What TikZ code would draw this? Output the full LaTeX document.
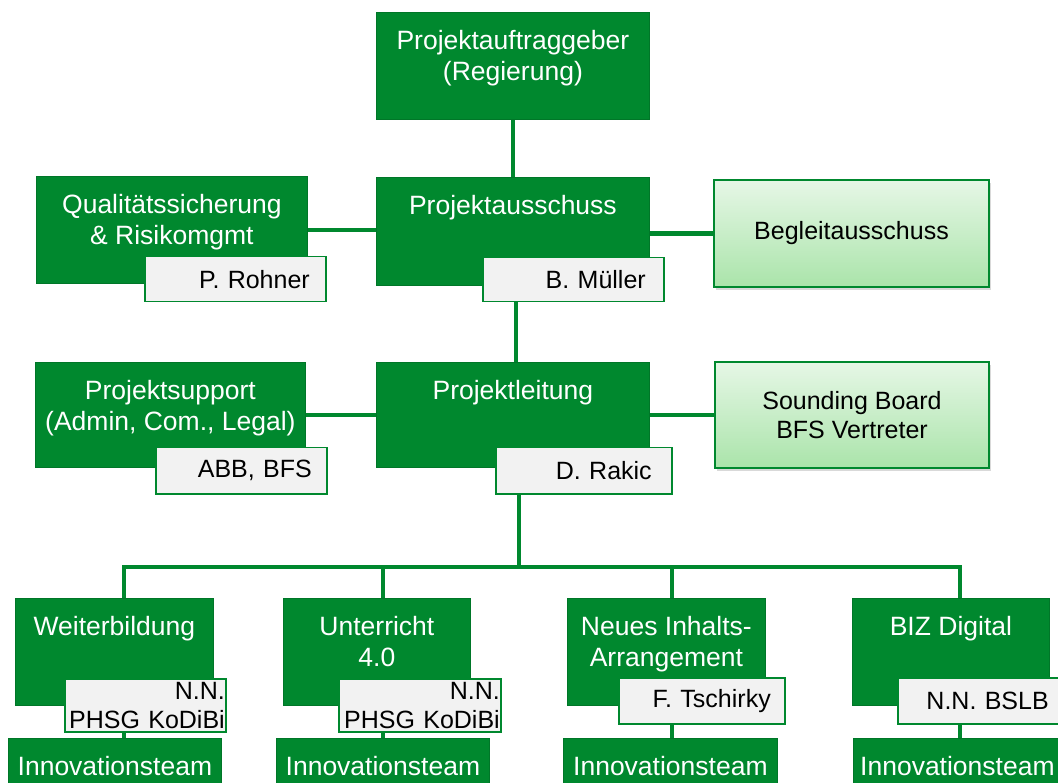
\documentclass[tikz,border=0pt]{standalone}
\usepackage{fontspec}
\setmainfont{Liberation Sans}
\usetikzlibrary{shadows,calc}
\definecolor{grn}{RGB}{0,136,46}
\definecolor{grnborder}{RGB}{0,118,40}
\definecolor{tagbg}{RGB}{242,242,242}
\definecolor{lgtop}{RGB}{230,247,230}
\definecolor{lgbot}{RGB}{170,228,170}
\newcommand\fsT{\fontsize{26.5}{31.5}\selectfont}
\newcommand\fsA{\fontsize{25}{31.5}\selectfont}
\newcommand\fsB{\fontsize{25}{29}\selectfont}
\begin{document}
\begin{tikzpicture}[x=1pt,y=-1pt,
  box/.style={fill=grn, draw=grnborder, line width=0.8pt, anchor=north west, inner sep=0pt},
  ttl/.style={anchor=north, yshift=-18pt, text=white, align=center, font=\fsT, inner sep=0pt},
  tagbox/.style={fill=tagbg, draw=grn, line width=1.5pt, anchor=north west, inner ysep=0pt, align=right, font=\fsA, text=black},
  tagtwo/.style={tagbox, font=\fsB},
  light/.style={anchor=north west, top color=lgtop, bottom color=lgbot, draw=grn, line width=2pt, font=\fsB, align=center, text=black, inner sep=0pt,
    drop shadow={opacity=0.3, shadow xshift=2pt, shadow yshift=-3pt}},
  conn/.style={draw=grn, line width=4.5pt}]
\useasboundingbox (0,0) rectangle (1058,783);
\clip (0,0) rectangle (1058,783);

% top level
\node[box, minimum width=273pt, minimum height=107pt, label={[ttl]north:{Projektauftraggeber\\(Regierung)}}] (top) at (376,12) {};

% second level
\node[box, minimum width=271pt, minimum height=107pt, label={[ttl]north:{Qualitätssicherung\\\& Risikomgmt}}] (qs) at (36,176) {};
\node[tagbox, text width=149pt, inner xsep=16pt, minimum height=45pt] (rohner) at (144,256) {P. Rohner};
\node[box, minimum width=273pt, minimum height=108pt, label={[ttl]north:{Projektausschuss}}] (pa) at (376,177) {};
\node[tagbox, text width=145pt, inner xsep=18pt, minimum height=44pt] (mueller) at (482,257) {B. Müller};
\node[light, minimum width=275pt, minimum height=107pt] (bg) at (713,179) {Begleitausschuss};

% third level
\node[box, minimum width=270pt, minimum height=105pt, label={[ttl]north:{Projektsupport\\(Admin, Com., Legal)}}] (ps) at (35,362) {};
\node[tagbox, text width=141pt, inner xsep=15pt, minimum height=46pt] (abb) at (155,447) {ABB, BFS};
\node[box, minimum width=273pt, minimum height=105pt, label={[ttl]north:{Projektleitung}}] (pl) at (376,362) {};
\node[tagbox, text width=136pt, inner xsep=20pt, minimum height=46pt] (rakic) at (495,447) {D. Rakic};
\node[light, minimum width=274pt, minimum height=106pt] (sb) at (714,361) {Sounding Board\\BFS Vertreter};

% bottom level
\node[box, minimum width=198pt, minimum height=107pt, label={[ttl]north:{Weiterbildung}}] (wb) at (15,598) {};
\node[tagtwo, text width=159pt, inner xsep=1pt, minimum height=53pt] (wbt) at (64,678) {N.N.\\PHSG KoDiBi};
\node[box, minimum width=213pt, minimum height=60pt, label={[ttl]north:{Innovationsteam}}] (in1) at (8,738) {};

\node[box, minimum width=187pt, minimum height=107pt, label={[ttl]north:{Unterricht\\4.0}}] (ut) at (283,598) {};
\node[tagtwo, text width=160pt, inner xsep=1pt, minimum height=53pt] (utt) at (338,678) {N.N.\\PHSG KoDiBi};
\node[box, minimum width=213pt, minimum height=60pt, label={[ttl]north:{Innovationsteam}}] (in2) at (276,738) {};

\node[box, minimum width=198pt, minimum height=107pt, label={[ttl]north:{Neues Inhalts-\\Arrangement}}] (na) at (567,598) {};
\node[tagbox, text width=138pt, inner xsep=14pt, minimum height=46pt] (tsch) at (618,677) {F. Tschirky};
\node[box, minimum width=214pt, minimum height=60pt, label={[ttl]north:{Innovationsteam}}] (in3) at (563,738) {};

\node[box, minimum width=197pt, minimum height=107pt, label={[ttl]north:{BIZ Digital}}] (bd) at (852,598) {};
\node[tagbox, text width=137pt, inner xsep=14pt, minimum height=46pt] (bslb) at (897,677) {N.N. BSLB};
\node[box, minimum width=214pt, minimum height=60pt, label={[ttl,xshift=-3pt]north:{Innovationsteam}}] (in4) at (853,738) {};

% connector positions
\coordinate (sp1) at (516,0);
\coordinate (bus) at (519,567);
\coordinate (c1) at (124,0);
\coordinate (c2) at (383,0);
\coordinate (c3) at (672,0);
\coordinate (c4) at (960,0);

% connectors
\draw[conn] (top.south) -- (top.south |- pa.north);
\draw[conn] (qs.east) -- (qs.east -| pa.west);
\draw[conn] (bg.west -| pa.east) -- (bg.west);
\draw[conn] (sp1 |- mueller.south) -- (sp1 |- pl.north);
\draw[conn] (ps.east) -- (ps.east -| pl.west);
\draw[conn] (sb.west -| pl.east) -- (sb.west);
\draw[conn] (bus |- rakic.south) -- (bus);
\draw[conn] (c1 |- wb.north) |- (c4 |- bus) -- (c4 |- bd.north);
\draw[conn] (c2 |- bus) -- (c2 |- ut.north);
\draw[conn] (c3 |- bus) -- (c3 |- na.north);
\draw[conn] (c1 |- wbt.south) -- (c1 |- in1.north);
\draw[conn] (c2 |- utt.south) -- (c2 |- in2.north);
\draw[conn] (c3 |- tsch.south) -- (c3 |- in3.north);
\draw[conn] (c4 |- bslb.south) -- (c4 |- in4.north);
\end{tikzpicture}
\end{document}
